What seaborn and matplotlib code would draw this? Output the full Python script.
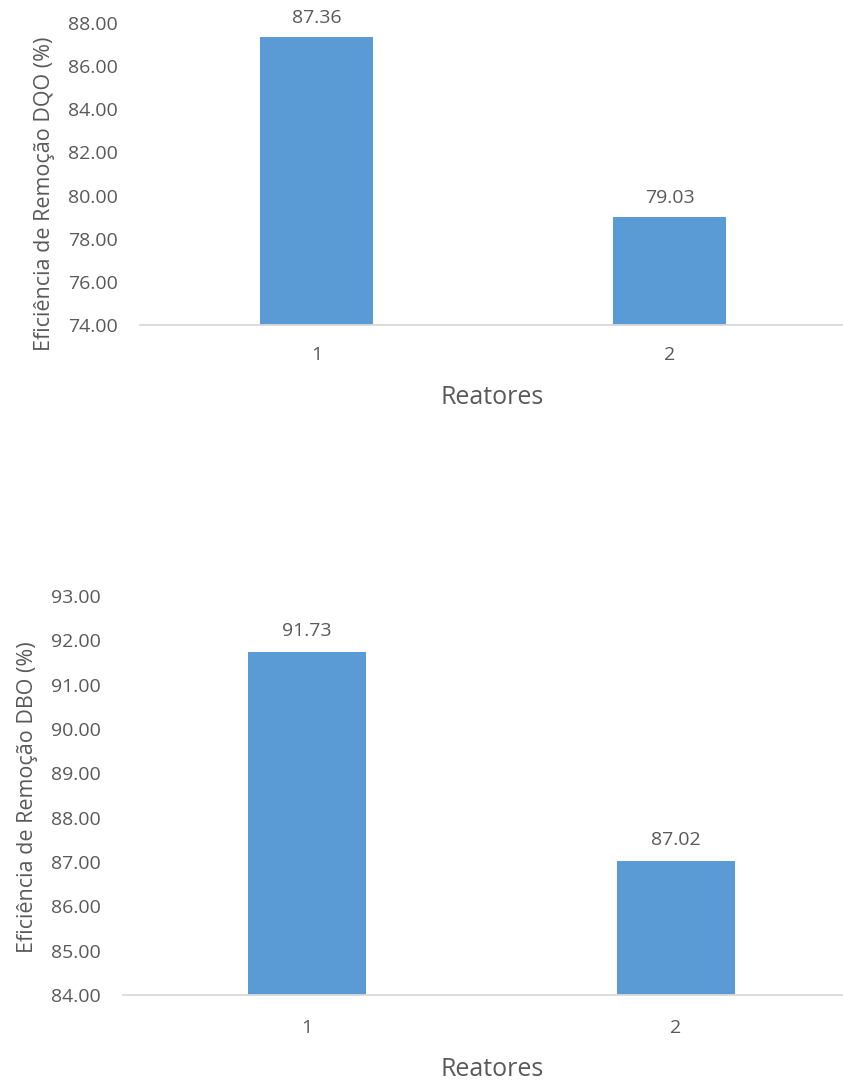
import matplotlib
matplotlib.use("Agg")
import matplotlib.pyplot as plt
import seaborn as sns
import pandas as pd
from matplotlib.ticker import FormatStrFormatter, MultipleLocator

# Removal efficiency per reactor
reatores = ["1", "2"]
dqo = [87.36, 79.03]
dbo = [91.73, 87.02]

BAR = "#5B9BD5"
TXT = "#595959"
AXIS = "#D9D9D9"

sns.set_theme(style="white")
plt.rcParams["font.family"] = ["Open Sans", "DejaVu Sans"]

fig = plt.figure(figsize=(8.43, 10.82), dpi=100)

panels = [
    dict(rect=[0.166, 0.6996, 0.8375, 0.2791], values=dqo, ylim=(74, 88), step=2,
         ylabel="Eficiência de Remoção DQO (%)", ylab=(-0.121, 0.434),
         xlab=(0.4986, -0.20), pad=15, lpad=7),
    dict(rect=[0.1459, 0.0804, 0.874, 0.3688], values=dbo, ylim=(84, 93), step=1,
         ylabel="Eficiência de Remoção DBO (%)", ylab=(-0.115, 0.496),
         xlab=(0.5007, -0.155), pad=17, lpad=9),
]

for p in panels:
    ax = fig.add_axes(p["rect"])
    df = pd.DataFrame({"Reatores": reatores, "Eficiencia": p["values"]})
    sns.barplot(data=df, x="Reatores", y="Eficiencia", color=BAR, saturation=1,
                width=0.32, ax=ax, edgecolor=BAR, linewidth=0)
    ax.set_ylim(*p["ylim"])
    ax.yaxis.set_major_locator(MultipleLocator(p["step"]))
    ax.yaxis.set_major_formatter(FormatStrFormatter("%.2f"))
    for c in ax.containers:
        ax.bar_label(c, fmt="%.2f", padding=p["lpad"], color=TXT, fontsize=14)
    for side in ("top", "right", "left"):
        ax.spines[side].set_visible(False)
    ax.spines["bottom"].set_color(AXIS)
    ax.spines["bottom"].set_linewidth(1.3)
    ax.tick_params(axis="both", length=0, colors=TXT, labelsize=14)
    ax.tick_params(axis="y", pad=16)
    ax.tick_params(axis="x", pad=p["pad"])
    ax.set_ylabel(p["ylabel"], color=TXT, fontsize=15.5)
    ax.yaxis.set_label_coords(*p["ylab"])
    ax.set_xlabel("Reatores", color=TXT, fontsize=18)
    ax.xaxis.set_label_coords(*p["xlab"])
    ax.grid(False)
    ax.set_facecolor("white")

fig.savefig("out.png", dpi=100, facecolor="white")
